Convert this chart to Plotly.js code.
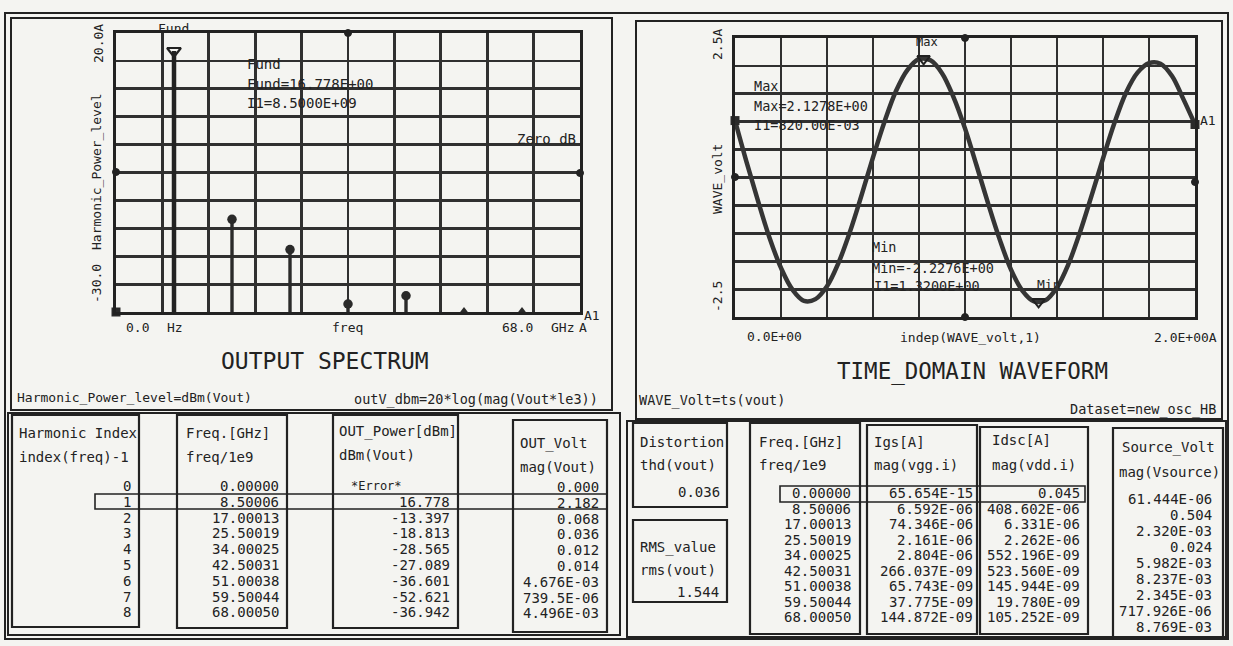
<!DOCTYPE html>
<html><head><meta charset="utf-8">
<script src="https://cdn.plot.ly/plotly-3.0.1.min.js"></script>
<style>html,body{margin:0;padding:0;background:#f4f4f1;}#chart{width:1233px;height:646px;}</style>
</head><body><div id="chart"></div>
<script>
// ---------- data ----------
const harmonicIndex = [0, 1, 2, 3, 4, 5, 6, 7, 8];
const freqGHz = [0.00000, 8.50006, 17.00013, 25.50019, 34.00025, 42.50031, 51.00038, 59.50044, 68.00050];
const outPowerDbm = [null, 16.778, -13.397, -18.813, -28.565, -27.089, -36.601, -52.621, -36.942];
const outVolt = ['0.000', '2.182', '0.068', '0.036', '0.012', '0.014', '4.676E-03', '739.5E-06', '4.496E-03'];
const igsA = ['65.654E-15', '6.592E-06', '74.346E-06', '2.161E-06', '2.804E-06', '266.037E-09', '65.743E-09', '37.775E-09', '144.872E-09'];
const idscA = ['0.045', '408.602E-06', '6.331E-06', '2.262E-06', '552.196E-09', '523.560E-09', '145.944E-09', '19.780E-09', '105.252E-09'];
const sourceVolt = ['61.444E-06', '0.504', '2.320E-03', '0.024', '5.982E-03', '8.237E-03', '2.345E-03', '717.926E-06', '8.769E-03'];
const thdVout = '0.036';
const rmsVout = '1.544';
const fundIndex = 1;
const fundLabel = ['Fund', 'Fund=16.778E+00', 'I1=8.5000E+09'];

const waveT = [0.00,0.05,0.10,0.15,0.20,0.25,0.30,0.35,0.40,0.45,0.50,0.55,0.60,0.65,0.70,0.75,0.80,0.85,0.90,0.95,
               1.00,1.05,1.10,1.15,1.20,1.25,1.30,1.35,1.40,1.45,1.50,1.55,1.60,1.65,1.70,1.75,1.80,1.85,1.90,1.95,2.00];
const waveV = [1.02,0.28,-0.42,-1.08,-1.62,-2.01,-2.21,-2.18,-1.95,-1.53,-0.97,-0.32,0.36,1.00,1.55,1.93,2.12,2.10,1.87,1.44,
               0.88,0.22,-0.46,-1.10,-1.65,-2.03,-2.22,-2.20,-1.97,-1.55,-0.98,-0.33,0.34,0.98,1.52,1.88,2.05,2.04,1.82,1.40,0.95];
const maxT = 0.82, maxV = 2.1278;
const minT = 1.32, minV = -2.2276;

// ---------- helpers ----------
const W = 1233, H = 646;
const FONT = 'DejaVu Sans Mono, Liberation Mono, monospace';
const INK = '#222222';
const px = x => x / W, py = y => 1 - y / H;
const ann = [], shp = [];
function txt(text, x, y, o) {
  o = o || {};
  ann.push({text: text, x: px(x), y: py(y), xref: 'paper', yref: 'paper', showarrow: false,
    xanchor: o.xa || 'left', yanchor: 'middle', textangle: o.angle || 0,
    font: {family: FONT, size: o.size || 14, color: INK}});
}
function rect(x0, y0, x1, y1, w) {
  shp.push({type: 'rect', xref: 'paper', yref: 'paper', x0: px(x0), x1: px(x1), y0: py(y1), y1: py(y0),
    line: {color: INK, width: w || 2.2}, fillcolor: 'rgba(0,0,0,0)'});
}
function dot(x, y, r) {
  r = r || 3.5;
  shp.push({type: 'circle', xref: 'paper', yref: 'paper', x0: px(x - r), x1: px(x + r), y0: py(y + r), y1: py(y - r),
    line: {color: INK, width: 1}, fillcolor: INK});
}

// ---------- spectrum traces ----------
const yMin = -30, yMax = 20;
const stemX = [], stemY = [], topX = [], topY = [], lowX = [], lowY = [];
harmonicIndex.forEach((h, i) => {
  const v = outPowerDbm[i];
  if (v === null || h === fundIndex) return;
  stemX.push(freqGHz[i], freqGHz[i], null);
  stemY.push(yMin, Math.max(v, yMin), null);
  if (v >= yMin) { topX.push(freqGHz[i]); topY.push(v); }
  else { lowX.push(freqGHz[i]); lowY.push(yMin); }
});
const errX = [], errY = [];
harmonicIndex.forEach((h, i) => { if (outPowerDbm[i] === null) { errX.push(freqGHz[i]); errY.push(yMin); } });

const traces = [
  {x: stemX, y: stemY, mode: 'lines', line: {color: '#2a2a2a', width: 3.4}, xaxis: 'x', yaxis: 'y', hoverinfo: 'skip'},
  {x: topX, y: topY, mode: 'markers', marker: {symbol: 'circle', size: 9.5, color: '#2a2a2a'}, xaxis: 'x', yaxis: 'y', cliponaxis: false},
  {x: lowX, y: lowY, mode: 'markers', marker: {symbol: 'triangle-up', size: 10, color: '#2a2a2a'}, xaxis: 'x', yaxis: 'y', cliponaxis: false},
  {x: [freqGHz[fundIndex], freqGHz[fundIndex]], y: [yMin, outPowerDbm[fundIndex]], mode: 'lines',
    line: {color: '#222', width: 4.5}, xaxis: 'x', yaxis: 'y'},
  {x: [freqGHz[fundIndex]], y: [outPowerDbm[fundIndex]], mode: 'markers',
    marker: {symbol: 'triangle-down-open', size: 12, color: '#222', line: {width: 2.2}}, xaxis: 'x', yaxis: 'y', cliponaxis: false},
  {x: errX, y: errY, mode: 'markers', marker: {symbol: 'square', size: 9, color: '#2a2a2a'}, xaxis: 'x', yaxis: 'y', cliponaxis: false},
  // waveform
  {x: waveT, y: waveV, mode: 'lines', line: {color: '#353535', width: 4.5, shape: 'spline', smoothing: 1}, xaxis: 'x2', yaxis: 'y2'},
  {x: [waveT[0], waveT[waveT.length - 1]], y: [waveV[0], waveV[waveV.length - 1]], mode: 'markers',
    marker: {symbol: 'square', size: 9, color: '#2a2a2a'}, xaxis: 'x2', yaxis: 'y2', cliponaxis: false},
  {x: [maxT, minT], y: [maxV, minV], mode: 'markers',
    marker: {symbol: 'triangle-down-open', size: 11, color: '#222', line: {width: 2}}, xaxis: 'x2', yaxis: 'y2', cliponaxis: false}
];

// ---------- axes ----------
function ax(domain, range, dtick) {
  return {domain: domain, range: range, dtick: dtick, tick0: range[0], showgrid: true, gridcolor: '#303030', gridwidth: 2.8,
    showline: true, mirror: true, linecolor: '#222', linewidth: 3.2, zeroline: false, showticklabels: false,
    ticks: '', fixedrange: true};
}
const layout = {
  width: W, height: H, margin: {l: 0, r: 0, t: 0, b: 0}, showlegend: false,
  paper_bgcolor: '#f4f4f1', plot_bgcolor: '#f4f4f1',
  xaxis: ax([px(116), px(580)], [0, 68], 6.8),
  yaxis: ax([py(312), py(33)], [yMin, yMax], 5),
  xaxis2: Object.assign(ax([px(735), px(1195)], [0, 2], 0.2), {anchor: 'y2'}),
  yaxis2: Object.assign(ax([py(317), py(38)], [-2.5, 2.5], 0.5), {anchor: 'x2'}),
  annotations: ann, shapes: shp
};

// ---------- frames ----------
rect(5, 13, 1228, 639, 2);
rect(11, 18, 612, 410, 2);
rect(636, 21, 1222, 419, 2);
rect(8, 413, 620, 635, 2);
rect(627, 421, 1226, 637, 2);

// spectrum texts
txt('20.0A', 98, 44, {xa: 'center', angle: -90, size: 13});
txt('Harmonic_Power_level', 97, 172, {xa: 'center', angle: -90, size: 13});
txt('-30.0', 96, 284, {xa: 'center', angle: -90, size: 13});
txt('0.0', 124, 327, {size: 13});
txt('Hz', 165, 327, {size: 13});
txt('freq', 347, 327, {xa: 'center', size: 13});
txt('68.0', 500, 327, {size: 13});
txt('GHz', 549, 327, {size: 13});
txt('A', 577, 327, {size: 13});
txt('A1', 582, 315, {size: 13});
txt(fundLabel[0], 173, 29, {xa: 'center', size: 13});
txt(fundLabel[0], 245, 64);
txt(fundLabel[1], 245, 84);
txt(fundLabel[2], 245, 103);
txt('Zero dB', 578, 139, {xa: 'right'});
txt('OUTPUT SPECTRUM', 325, 361, {xa: 'center', size: 23});
txt('Harmonic_Power_level=dBm(Vout)', 15, 397, {size: 13});
txt('outV_dbm=20*log(mag(Vout*le3))', 600, 399, {xa: 'right', size: 13.5});
dot(116, 172); dot(580, 173); dot(348, 33);

// waveform texts
txt('2.5A', 717, 45, {xa: 'center', angle: -90, size: 13});
txt('WAVE_volt', 717, 179, {xa: 'center', angle: -90, size: 13});
txt('-2.5', 717, 297, {xa: 'center', angle: -90, size: 13});
txt('0.0E+00', 745, 336, {size: 13});
txt('indep(WAVE_volt,1)', 970, 337, {xa: 'center', size: 13});
txt('2.0E+00A', 1219, 337, {xa: 'right', size: 13});
txt('A1', 1198, 121, {size: 13});
txt('Max', 752, 86, {size: 13.5});
txt('Max=' + maxV.toFixed(4) + 'E+00', 752, 106, {size: 13.5});
txt('I1=' + (maxT * 1000).toFixed(2) + 'E-03', 752, 125, {size: 13.5});
txt('Max', 927, 42, {xa: 'center', size: 12});
txt('Min', 870, 247, {size: 13.5});
txt('Min=' + minV.toFixed(4) + 'E+00', 870, 268, {size: 13.5});
txt('I1=' + minT.toFixed(4) + 'E+00', 872, 286, {size: 13.5});
txt('Min', 1048, 284, {xa: 'center', size: 13});
txt('TIME_DOMAIN WAVEFORM', 972, 371, {xa: 'center', size: 22.5});
txt('WAVE_Volt=ts(vout)', 637, 401, {size: 13.5});
txt('Dataset=new_osc_HB', 1218, 409, {xa: 'right', size: 13.5});
dot(735, 177); dot(1195, 182); dot(965, 38); dot(965, 317);

// ---------- left tables ----------
rect(12, 415, 139, 627);
rect(177, 415, 287, 628);
rect(333, 415, 458, 628);
rect(513, 420, 607, 632);
rect(95, 494, 607, 509, 1.6);
txt('Harmonic Index', 17, 433);
txt('index(freq)-1', 17, 457);
txt('Freq.[GHz]', 184, 433);
txt('freq/1e9', 184, 457);
txt('OUT_Power[dBm]', 337, 431);
txt('dBm(Vout)', 337, 455);
txt('OUT_Volt', 518, 443);
txt('mag(Vout)', 518, 467);
harmonicIndex.forEach((h, i) => {
  const y = 486 + 15.8 * i;
  txt(String(h), 133, y, {xa: 'right'});
  txt(freqGHz[i].toFixed(5), 281, y, {xa: 'right'});
  const v = outPowerDbm[i];
  if (v === null) txt('*Error*', 404, y, {xa: 'right', size: 12});
  else txt(v.toFixed(3), 452, y, {xa: 'right'});
  txt(outVolt[i], 601, y + 1, {xa: 'right'});
});

// ---------- right tables ----------
rect(633, 423, 727, 507);
rect(633, 520, 727, 602);
rect(750, 423, 860, 634);
rect(867, 425, 977, 634);
rect(980, 427, 1088, 634);
rect(1113, 428, 1223, 637);
rect(780, 486, 1085, 502, 1.6);
txt('Distortion', 638, 442);
txt('thd(vout)', 638, 465);
txt(thdVout, 722, 492, {xa: 'right'});
txt('RMS_value', 638, 547);
txt('rms(vout)', 638, 570);
txt(rmsVout, 721, 592, {xa: 'right'});
txt('Freq.[GHz]', 757, 442);
txt('freq/1e9', 757, 465);
txt('Igs[A]', 872, 442);
txt('mag(vgg.i)', 872, 465);
txt('Idsc[A]', 990, 440);
txt('mag(vdd.i)', 990, 465);
txt('Source_Volt', 1120, 447);
txt('mag(Vsource)', 1117, 472);
harmonicIndex.forEach((h, i) => {
  const y = 493 + 15.5 * i;
  txt(freqGHz[i].toFixed(5), 853, y, {xa: 'right'});
  txt(igsA[i], 975, y, {xa: 'right'});
  txt(idscA[i], 1082, y, {xa: 'right'});
  txt(sourceVolt[i], 1214, 499 + 16.0 * i, {xa: 'right'});
});

Plotly.newPlot('chart', traces, layout, {staticPlot: true, displayModeBar: false});
</script>
</body></html>
